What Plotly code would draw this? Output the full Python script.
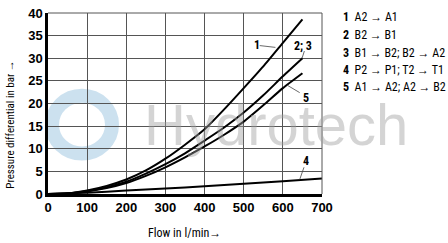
import plotly.graph_objects as go

# Data
flow = [0, 50, 100, 150, 200, 250, 300, 350, 400, 450, 500, 550, 600, 650]
curve_1 = [0, 0.15, 0.8, 1.8, 3.2, 5.2, 7.8, 10.9, 14.3, 18.7, 23.4, 28.2, 33.4, 38.6]
curve_23 = [0, 0.12, 0.65, 1.5, 2.7, 4.5, 6.6, 9.0, 11.8, 14.7, 18.0, 21.8, 26.0, 30.0]
curve_5 = [0, 0.1, 0.55, 1.3, 2.4, 4.0, 5.9, 8.1, 10.5, 13.1, 16.0, 19.6, 23.4, 26.7]
flow_4 = [0, 100, 200, 300, 400, 500, 600, 700]
curve_4 = [0, 0.3, 0.75, 1.2, 1.7, 2.25, 2.8, 3.4]

legend_nums = ["1", "2", "3", "4", "5"]
legend_texts = ["A2 → A1", "B2 → B1", "B1 → B2; B2 → A2", "P2 → P1; T2 → T1", "A1 → A2; A2 → B2"]

x_ticks = [0, 100, 200, 300, 400, 500, 600, 700]
y_ticks = [0, 5, 10, 15, 20, 25, 30, 35, 40]

NARROW = "Liberation Sans Narrow, Roboto Condensed, Arial Narrow, Liberation Sans, Arial"
REG = "Liberation Sans, Arial, sans-serif"

# plot area in pixels
L, R, T, B = 48, 322, 6, 194
W, H = 448, 243


def px(xp):
    return (xp - L) / (R - L)


def py(yp):
    return (B - yp) / (B - T)


fig = go.Figure()

# watermark: logo ring + text
fig.add_shape(type="circle", xref="paper", yref="paper",
              x0=px(52), x1=px(112), y0=py(152), y1=py(92),
              line=dict(color="rgba(110,170,210,0.35)", width=14), layer="below")
fig.add_annotation(text="Hydrotech", x=px(276), y=py(122), xref="paper", yref="paper",
                   showarrow=False, font=dict(family=REG, size=58, color="rgba(160,160,160,0.45)"),
                   xanchor="center", yanchor="middle")

# top / right border in grey
fig.add_shape(type="line", xref="paper", yref="paper", x0=0, y0=1, x1=1, y1=1, line=dict(color="#555", width=1))
fig.add_shape(type="line", xref="paper", yref="paper", x0=1, y0=0, x1=1, y1=1, line=dict(color="#555", width=1))

line_style = dict(color="black", width=2)
for xs, ys in [(flow, curve_1), (flow, curve_23), (flow, curve_5), (flow_4, curve_4)]:
    fig.add_trace(go.Scatter(x=xs, y=ys, mode="lines", line=dict(shape="spline", smoothing=0.6, **line_style),
                             showlegend=False, hoverinfo="skip"))

# curve labels with leader lines
labels = [
    ("1", 533, 32.9, 541, 32.8, 581, 32.4),
    ("2; 3", 652, 32.7, 655, 31.6, 649, 30.0),
    ("5", 660, 21.3, 643, 22.4, 612, 24.0),
    ("4", 658, 7.3, 654, 5.9, 643, 3.2),
]
for txt, tx, ty, x0, y0, x1, y1 in labels:
    fig.add_annotation(text=f"<b>{txt}</b>", x=tx, y=ty, showarrow=False,
                       font=dict(family=NARROW, size=12, color="black"), xanchor="center", yanchor="middle")
    fig.add_shape(type="line", x0=x0, y0=y0, x1=x1, y1=y1, line=dict(color="#444", width=0.8))

# legend text on the right
legend_y = [10, 29, 47.5, 65, 83]
for n, t, yp in zip(legend_nums, legend_texts, legend_y):
    fig.add_annotation(text=f"<b>{n}</b>  {t}", x=px(341), y=py(yp), xref="paper", yref="paper",
                       showarrow=False, xanchor="left", yanchor="middle",
                       font=dict(family=NARROW, size=12, color="black"))

# axis titles
fig.add_annotation(text="Flow in l/min→", x=px(184), y=py(235), xref="paper", yref="paper",
                   showarrow=False, xanchor="center", yanchor="middle",
                   font=dict(family=NARROW, size=12, color="black"))
fig.add_annotation(text="Pressure differential in bar →", x=px(11), y=py(122), xref="paper", yref="paper",
                   showarrow=False, xanchor="center", yanchor="middle", textangle=-90,
                   font=dict(family=NARROW, size=11, color="black"))

fig.update_layout(
    width=W, height=H,
    margin=dict(l=L, r=W - R, t=T, b=H - B),
    plot_bgcolor="white", paper_bgcolor="white",
    font=dict(family=NARROW, color="black"),
    xaxis=dict(range=[0, 700], tickmode="array", tickvals=x_ticks, ticktext=[f"<b>{v}</b>" for v in x_ticks],
               showgrid=True, gridcolor="#555555", gridwidth=1, zeroline=False,
               showline=True, linecolor="black", linewidth=2.5, ticks="",
               ticklabeloverflow="allow",
               tickfont=dict(family=REG, size=13, weight="bold")),
    yaxis=dict(range=[0, 40], tickmode="array", tickvals=y_ticks, ticktext=[f"<b>{v}</b>" for v in y_ticks],
               showgrid=True, gridcolor="#555555", gridwidth=1, zeroline=False,
               showline=True, linecolor="black", linewidth=2.5, ticks="",
               ticklabeloverflow="allow",
               tickfont=dict(family=REG, size=13, weight="bold")),
)

fig.write_html("out.html")
